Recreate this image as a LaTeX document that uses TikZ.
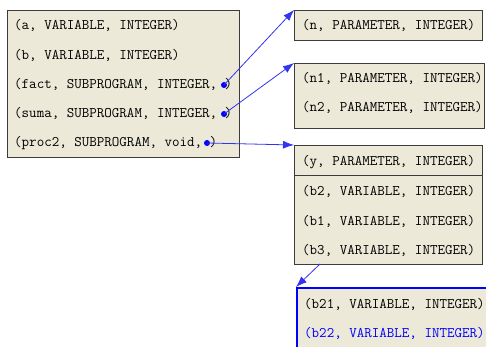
\documentclass[tikz,border=0pt]{standalone}
\usetikzlibrary{arrows.meta}
\definecolor{boxfill}{HTML}{ECE9D8}
\definecolor{boxline}{HTML}{3C3C3C}
\definecolor{conn}{HTML}{3333F0}
\definecolor{hiblue}{HTML}{0000FF}
\tikzset{
  box/.style={draw=boxline, fill=boxfill, line width=1pt, anchor=north west, inner sep=0pt},
  hibox/.style={draw=hiblue, fill=boxfill, line width=2pt, anchor=north west, inner sep=0pt},
  txt/.style={anchor=west, inner sep=0pt, font=\fontsize{14.6}{16}\selectfont\ttfamily, text=black},
  hitxt/.style={txt, text=hiblue},
  dotnode/.style={circle, fill=hiblue, inner sep=0pt, minimum size=6pt},
  connector/.style={draw=conn, line width=0.8pt, -{Latex[length=11pt,width=8pt]}},
}
\begin{document}
\begin{tikzpicture}[x=1pt,y=-1pt]
\useasboundingbox (0,0) rectangle (486,347);
\clip (0,0) rectangle (486,347);
% left box
\node[box, minimum width=232pt, minimum height=147pt] (L) at (7,10) {};
\node[txt] (la) at (14,25) {(a, VARIABLE, INTEGER)};
\node[txt] (lb) at (14,55) {(b, VARIABLE, INTEGER)};
\node[txt] (lf) at (14,84) {(fact, SUBPROGRAM, INTEGER, )};
\node[txt] (ls) at (14,113) {(suma, SUBPROGRAM, INTEGER, )};
\node[txt] (lp) at (14,143) {(proc2, SUBPROGRAM, void, )};
% n box
\node[box, minimum width=188pt, minimum height=30pt] (N) at (294,10) {};
\node[txt] (tn) at (302,25) {(n, PARAMETER, INTEGER)};
% n1 n2 box
\node[box, minimum width=190pt, minimum height=65pt] (N12) at (294,63) {};
\node[txt] (tn1) at (302,78) {(n1, PARAMETER, INTEGER)};
\node[txt] (tn2) at (302,107) {(n2, PARAMETER, INTEGER)};
% y box
\node[box, minimum width=188pt, minimum height=119pt] (Y) at (294,145) {};
\draw[draw=boxline, line width=1pt] (Y.west |- 0,176) coordinate (ys1) -- (Y.east |- 0,176) coordinate (ys2);
\node[txt] (ty) at (302,162) {(y, PARAMETER, INTEGER)};
\node[txt] (tb2) at (302,191) {(b2, VARIABLE, INTEGER)};
\node[txt] (tb1) at (302,221) {(b1, VARIABLE, INTEGER)};
\node[txt] (tb3) at (302,250) {(b3, VARIABLE, INTEGER)};
% b21 box
\node[hibox, minimum width=200pt, minimum height=80pt] (B) at (296,287) {};
\node[txt] (tb21) at (304,304) {(b21, VARIABLE, INTEGER)};
\node[hitxt] (tb22) at (304,333) {(b22, VARIABLE, INTEGER)};
% dots
\node[dotnode] (df) at (224,85) {};
\node[dotnode] (ds) at (224,114) {};
\node[dotnode] (dp) at (207,143) {};
\coordinate (ybot) at (320,264);
% connectors
\draw[connector] (df.center) -- (N.north west);
\draw[connector] (ds.center) -- (N12.north west);
\draw[connector] (dp.center) -- (Y.north west);
\draw[connector] (ybot) -- (B.north west);
\end{tikzpicture}
\end{document}
